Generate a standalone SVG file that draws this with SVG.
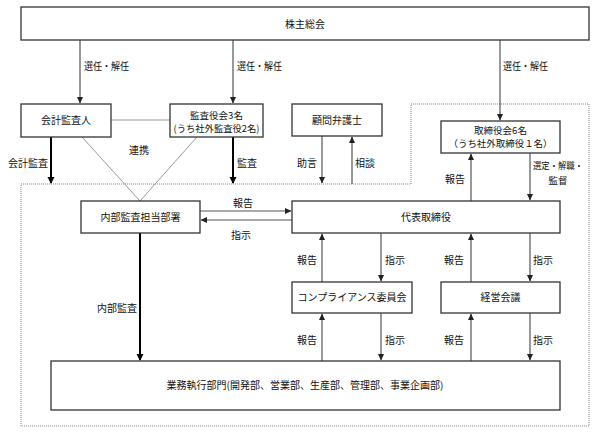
<svg xmlns="http://www.w3.org/2000/svg" width="598" height="434" viewBox="0 0 598 434">
<style>
.box{fill:#fff;stroke:#333;stroke-width:1.3}
.t{font-family:"Noto Sans CJK JP","Noto Sans",sans-serif;font-size:10px;fill:#111}
.s{font-size:9.5px}
.c{text-anchor:middle}
.thin{fill:none;stroke:#555;stroke-width:1.2}
.thick{fill:none;stroke:#000;stroke-width:2}
.gray{fill:none;stroke:#999;stroke-width:1}
.dot{fill:none;stroke:#888;stroke-width:1;stroke-dasharray:1 1}
</style>
<defs>
<marker id="ah" markerWidth="7" markerHeight="7" refX="6" refY="3.5" orient="auto" markerUnits="userSpaceOnUse"><path d="M0,0.5 L6.5,3.5 L0,6.5 Z" fill="#222"/></marker>
<marker id="ahk" markerWidth="8" markerHeight="8" refX="6" refY="4" orient="auto" markerUnits="userSpaceOnUse"><path d="M0,0.5 L7,4 L0,7.5 Z" fill="#000"/></marker>
</defs>
<rect width="598" height="434" fill="#fff"/>
<path class="dot" d="M21,426 V184 H411 V104 H589 V426 Z"/>

<g id="connectors">
<path class="thin" d="M80,40 V103" marker-end="url(#ah)"/>
<path class="thin" d="M233,40 V103" marker-end="url(#ah)"/>
<path class="thin" d="M500,40 V120" marker-end="url(#ah)"/>
<path class="gray" d="M111,120 H170"/>
<path class="gray" d="M82,137 L140,201 L197,137"/>
<path class="thick" d="M51,137 V183" marker-end="url(#ahk)"/>
<path class="thick" d="M233,137 V183" marker-end="url(#ahk)"/>
<path class="thin" d="M322,136 V183" marker-end="url(#ah)"/>
<path class="thin" d="M352,184 V137" marker-end="url(#ah)"/>
<path class="thin" d="M471,201 V154" marker-end="url(#ah)"/>
<path class="thin" d="M530,153 V200" marker-end="url(#ah)"/>
<path class="thin" d="M200,211 H291" marker-end="url(#ah)"/>
<path class="thin" d="M292,220 H201" marker-end="url(#ah)"/>
<path class="thick" d="M140,233 V360" marker-end="url(#ahk)"/>
<path class="thin" d="M322,282 V234" marker-end="url(#ah)"/>
<path class="thin" d="M381,233 V281" marker-end="url(#ah)"/>
<path class="thin" d="M471,282 V234" marker-end="url(#ah)"/>
<path class="thin" d="M530,233 V281" marker-end="url(#ah)"/>
<path class="thin" d="M322,361 V314" marker-end="url(#ah)"/>
<path class="thin" d="M381,313 V360" marker-end="url(#ah)"/>
<path class="thin" d="M471,361 V314" marker-end="url(#ah)"/>
<path class="thin" d="M530,313 V360" marker-end="url(#ah)"/>
<text class="t" x="84" y="70" textLength="45" lengthAdjust="spacingAndGlyphs">選任・解任</text>
<text class="t" x="237" y="70" textLength="45" lengthAdjust="spacingAndGlyphs">選任・解任</text>
<text class="t" x="503" y="70" textLength="45" lengthAdjust="spacingAndGlyphs">選任・解任</text>
<text class="t" x="8" y="167">会計監査</text>
<text class="t c" x="139" y="154">連携</text>
<text class="t" x="237" y="167">監査</text>
<text class="t" x="297" y="167">助言</text>
<text class="t" x="355" y="167">相談</text>
<text class="t" x="445" y="183">報告</text>
<text class="t s" x="533" y="169" textLength="50" lengthAdjust="spacingAndGlyphs">選定・解職・</text>
<text class="t s c" x="558" y="184">監督</text>
<text class="t c" x="243" y="207">報告</text>
<text class="t c" x="241" y="239">指示</text>
<text class="t" x="97" y="312">内部監査</text>
<text class="t" x="297" y="264">報告</text>
<text class="t" x="385" y="264">指示</text>
<text class="t" x="444" y="264">報告</text>
<text class="t" x="533" y="264">指示</text>
<text class="t" x="297" y="344">報告</text>
<text class="t" x="385" y="344">指示</text>
<text class="t" x="444" y="344">報告</text>
<text class="t" x="533" y="344">指示</text>
</g>

<g id="shareholders"><rect class="box" x="21" y="7" width="568" height="33"/><text class="t c" x="305" y="28">株主総会</text></g>
<g id="auditor"><rect class="box" x="21" y="104" width="90" height="33"/><text class="t c" x="66" y="124">会計監査人</text></g>
<g id="audit-board"><rect class="box" x="170" y="104" width="93" height="33"/><text class="t s c" x="216.5" y="119">監査役会3名</text><text class="t s c" x="216.5" y="132" textLength="86" lengthAdjust="spacingAndGlyphs">(うち社外監査役2名)</text></g>
<g id="lawyer"><rect class="box" x="292" y="104" width="90" height="32"/><text class="t c" x="337" y="124">顧問弁護士</text></g>
<g id="board"><rect class="box" x="441" y="121" width="119" height="32"/><text class="t s c" x="500.5" y="134">取締役会6名</text><text class="t s c" x="500.5" y="147" textLength="104" lengthAdjust="spacingAndGlyphs">（うち社外取締役１名）</text></g>
<g id="internal-audit"><rect class="box" x="81" y="201" width="119" height="32"/><text class="t c" x="140.5" y="221">内部監査担当部署</text></g>
<g id="ceo"><rect class="box" x="292" y="201" width="268" height="32"/><text class="t c" x="426" y="221">代表取締役</text></g>
<g id="compliance"><rect class="box" x="292" y="282" width="120" height="31"/><text class="t c" x="352" y="301">コンプライアンス委員会</text></g>
<g id="management"><rect class="box" x="441" y="282" width="119" height="31"/><text class="t c" x="500.5" y="301">経営会議</text></g>
<g id="operations"><rect class="box" x="51" y="361" width="509" height="49"/><text class="t c" x="305" y="389">業務執行部門(開発部、営業部、生産部、管理部、事業企画部)</text></g>
</svg>
